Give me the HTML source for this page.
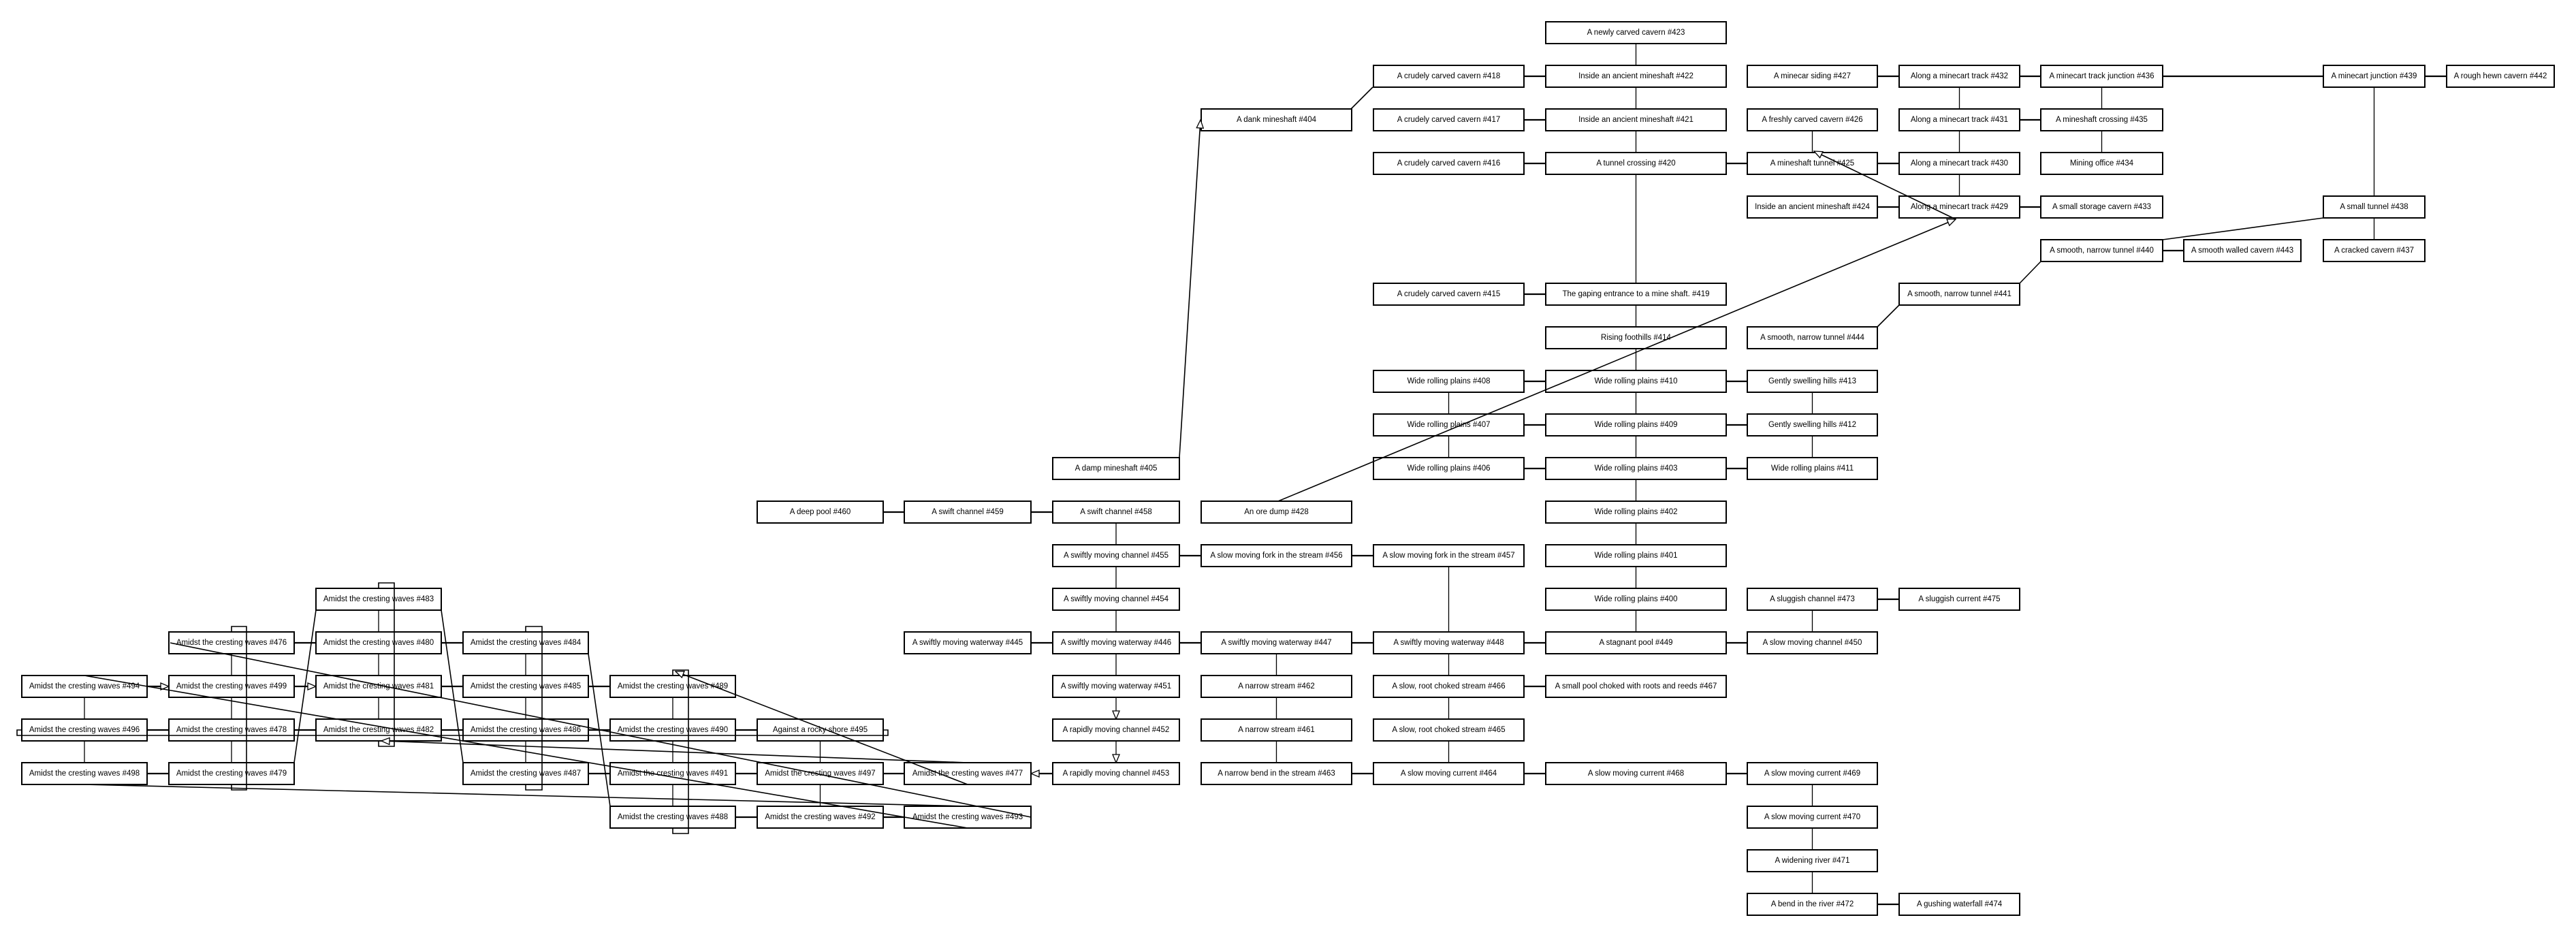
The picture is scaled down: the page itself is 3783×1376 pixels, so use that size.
<!DOCTYPE html>
<html><head><meta charset="utf-8"><style>
html,body{margin:0;padding:0;background:#fff}
svg{display:block}
text{font-family:"Liberation Sans",sans-serif;font-size:11.5px;fill:#000;text-anchor:middle;dominant-baseline:central}
.b rect{fill:#fff;stroke:#000;stroke-width:2}
.h{stroke:#000;stroke-width:2.2;fill:none}
.v{stroke:#000;stroke-width:1.3;fill:none}
.d{stroke:#000;stroke-width:1.6;fill:none}
</style></head><body>
<svg width="3783" height="1376" viewBox="0 0 3783 1376" xmlns="http://www.w3.org/2000/svg">
<defs>
<marker id="a" viewBox="0 0 14 12" refX="13" refY="6" markerWidth="14" markerHeight="12" markerUnits="userSpaceOnUse" orient="auto">
<path d="M1,1 L13,6 L1,11 Z" fill="#fff" stroke="#000" stroke-width="1.3"/>
</marker>
</defs>

<!-- horizontal edges -->
<g class="h">
<path d="M2238 112H2270M2757 112H2789M2966 112H2997M3176 112H3412M3561 112H3593"/>
<path d="M2238 176H2270M2966 176H2997"/>
<path d="M2238 240H2270M2535 240H2566M2757 240H2789"/>
<path d="M2757 304H2789M2966 304H2997"/>
<path d="M3176 368H3207"/>
<path d="M2238 432H2270"/>
<path d="M2238 560H2270M2535 560H2566M2238 624H2270M2535 624H2566M2238 688H2270M2535 688H2566"/>
<path d="M1297 752H1328M1514 752H1546"/>
<path d="M1732 816H1764M1985 816H2017"/>
<path d="M2757 880H2789"/>
<path d="M1514 944H1546M1732 944H1764M1985 944H2017M2238 944H2270M2535 944H2566M432 944H464M648 944H680"/>
<path d="M2238 1008H2270M648 1008H680M864 1008H896"/>
<path d="M216 1072H248M432 1072H464M648 1072H680M864 1072H896M1080 1072H1112"/>
<path d="M1985 1136H2017M2238 1136H2270M2535 1136H2566M216 1136H248M864 1136H896M1080 1136H1112M1297 1136H1328"/>
<path d="M1080 1200H1112M1297 1200H1328"/>
<path d="M2757 1328H2789"/>
</g>
<!-- vertical edges -->
<g class="v">
<path d="M2402.5 64V96M2402.5 128V160M2402.5 192V224M2402.5 256V416M2402.5 448V480M2402.5 512V544M2402.5 576V608M2402.5 640V672M2402.5 704V736M2402.5 768V800M2402.5 832V864M2402.5 896V928"/>
<path d="M2127.5 576V608M2127.5 640V672M2127.5 832V928M2127.5 960V992M2127.5 1024V1056M2127.5 1088V1120"/>
<path d="M2661.5 192V224M2661.5 576V608M2661.5 640V672M2661.5 896V928M2661.5 1152V1184M2661.5 1216V1248M2661.5 1280V1312"/>
<path d="M2877.5 128V160M2877.5 192V224M2877.5 256V288"/>
<path d="M3086.5 128V160M3086.5 192V224"/>
<path d="M3486.5 128V288M3486.5 320V352"/>
<path d="M1639 768V800M1639 832V864M1639 896V928M1639 960V992"/>
<path d="M1874.5 960V992M1874.5 1024V1056M1874.5 1088V1120"/>
<path d="M124 1024V1056M124 1088V1120"/>
<path d="M340 960V992M340 1024V1056M340 1088V1120"/>
<path d="M556 896V928M556 960V992M556 1024V1056"/>
<path d="M772 960V992M772 1024V1056M772 1088V1120"/>
<path d="M988 1024V1056M988 1088V1120M988 1152V1184"/>
<path d="M1204.5 1088V1120M1204.5 1152V1184"/>
</g>
<path class="v" d="M1639 1024V1056" marker-end="url(#a)"/>
<path class="v" d="M1639 1088V1120" marker-end="url(#a)"/>
<path class="h" d="M1546 1136H1514" marker-end="url(#a)"/>
<path class="h" d="M216 1008H248" marker-end="url(#a)"/>
<path class="h" d="M432 1008H464" marker-end="url(#a)"/>

<!-- nodes -->
<g class="b">
<g transform="translate(2270,32)"><rect width="265" height="32"/><text x="132.5" y="16">A newly carved cavern #423</text></g>

<g transform="translate(2017,96)"><rect width="221" height="32"/><text x="110.5" y="16">A crudely carved cavern #418</text></g>
<g transform="translate(2270,96)"><rect width="265" height="32"/><text x="132.5" y="16">Inside an ancient mineshaft #422</text></g>
<g transform="translate(2566,96)"><rect width="191" height="32"/><text x="95.5" y="16">A minecar siding #427</text></g>
<g transform="translate(2789,96)"><rect width="177" height="32"/><text x="88.5" y="16">Along a minecart track #432</text></g>
<g transform="translate(2997,96)"><rect width="179" height="32"/><text x="89.5" y="16">A minecart track junction #436</text></g>
<g transform="translate(3412,96)"><rect width="149" height="32"/><text x="74.5" y="16">A minecart junction #439</text></g>
<g transform="translate(3593,96)"><rect width="158" height="32"/><text x="79" y="16">A rough hewn cavern #442</text></g>

<g transform="translate(1764,160)"><rect width="221" height="32"/><text x="110.5" y="16">A dank mineshaft #404</text></g>
<g transform="translate(2017,160)"><rect width="221" height="32"/><text x="110.5" y="16">A crudely carved cavern #417</text></g>
<g transform="translate(2270,160)"><rect width="265" height="32"/><text x="132.5" y="16">Inside an ancient mineshaft #421</text></g>
<g transform="translate(2566,160)"><rect width="191" height="32"/><text x="95.5" y="16">A freshly carved cavern #426</text></g>
<g transform="translate(2789,160)"><rect width="177" height="32"/><text x="88.5" y="16">Along a minecart track #431</text></g>
<g transform="translate(2997,160)"><rect width="179" height="32"/><text x="89.5" y="16">A mineshaft crossing #435</text></g>

<g transform="translate(2017,224)"><rect width="221" height="32"/><text x="110.5" y="16">A crudely carved cavern #416</text></g>
<g transform="translate(2270,224)"><rect width="265" height="32"/><text x="132.5" y="16">A tunnel crossing #420</text></g>
<g transform="translate(2566,224)"><rect width="191" height="32"/><text x="95.5" y="16">A mineshaft tunnel #425</text></g>
<g transform="translate(2789,224)"><rect width="177" height="32"/><text x="88.5" y="16">Along a minecart track #430</text></g>
<g transform="translate(2997,224)"><rect width="179" height="32"/><text x="89.5" y="16">Mining office #434</text></g>

<g transform="translate(2566,288)"><rect width="191" height="32"/><text x="95.5" y="16">Inside an ancient mineshaft #424</text></g>
<g transform="translate(2789,288)"><rect width="177" height="32"/><text x="88.5" y="16">Along a minecart track #429</text></g>
<g transform="translate(2997,288)"><rect width="179" height="32"/><text x="89.5" y="16">A small storage cavern #433</text></g>
<g transform="translate(3412,288)"><rect width="149" height="32"/><text x="74.5" y="16">A small tunnel #438</text></g>

<g transform="translate(2997,352)"><rect width="179" height="32"/><text x="89.5" y="16">A smooth, narrow tunnel #440</text></g>
<g transform="translate(3207,352)"><rect width="172" height="32"/><text x="86" y="16">A smooth walled cavern #443</text></g>
<g transform="translate(3412,352)"><rect width="149" height="32"/><text x="74.5" y="16">A cracked cavern #437</text></g>

<g transform="translate(2017,416)"><rect width="221" height="32"/><text x="110.5" y="16">A crudely carved cavern #415</text></g>
<g transform="translate(2270,416)"><rect width="265" height="32"/><text x="132.5" y="16">The gaping entrance to a mine shaft. #419</text></g>
<g transform="translate(2789,416)"><rect width="177" height="32"/><text x="88.5" y="16">A smooth, narrow tunnel #441</text></g>

<g transform="translate(2270,480)"><rect width="265" height="32"/><text x="132.5" y="16">Rising foothills #414</text></g>
<g transform="translate(2566,480)"><rect width="191" height="32"/><text x="95.5" y="16">A smooth, narrow tunnel #444</text></g>

<g transform="translate(2017,544)"><rect width="221" height="32"/><text x="110.5" y="16">Wide rolling plains #408</text></g>
<g transform="translate(2270,544)"><rect width="265" height="32"/><text x="132.5" y="16">Wide rolling plains #410</text></g>
<g transform="translate(2566,544)"><rect width="191" height="32"/><text x="95.5" y="16">Gently swelling hills #413</text></g>

<g transform="translate(2017,608)"><rect width="221" height="32"/><text x="110.5" y="16">Wide rolling plains #407</text></g>
<g transform="translate(2270,608)"><rect width="265" height="32"/><text x="132.5" y="16">Wide rolling plains #409</text></g>
<g transform="translate(2566,608)"><rect width="191" height="32"/><text x="95.5" y="16">Gently swelling hills #412</text></g>

<g transform="translate(1546,672)"><rect width="186" height="32"/><text x="93" y="16">A damp mineshaft #405</text></g>
<g transform="translate(2017,672)"><rect width="221" height="32"/><text x="110.5" y="16">Wide rolling plains #406</text></g>
<g transform="translate(2270,672)"><rect width="265" height="32"/><text x="132.5" y="16">Wide rolling plains #403</text></g>
<g transform="translate(2566,672)"><rect width="191" height="32"/><text x="95.5" y="16">Wide rolling plains #411</text></g>

<g transform="translate(1112,736)"><rect width="185" height="32"/><text x="92.5" y="16">A deep pool #460</text></g>
<g transform="translate(1328,736)"><rect width="186" height="32"/><text x="93" y="16">A swift channel #459</text></g>
<g transform="translate(1546,736)"><rect width="186" height="32"/><text x="93" y="16">A swift channel #458</text></g>
<g transform="translate(1764,736)"><rect width="221" height="32"/><text x="110.5" y="16">An ore dump #428</text></g>
<g transform="translate(2270,736)"><rect width="265" height="32"/><text x="132.5" y="16">Wide rolling plains #402</text></g>

<g transform="translate(1546,800)"><rect width="186" height="32"/><text x="93" y="16">A swiftly moving channel #455</text></g>
<g transform="translate(1764,800)"><rect width="221" height="32"/><text x="110.5" y="16">A slow moving fork in the stream #456</text></g>
<g transform="translate(2017,800)"><rect width="221" height="32"/><text x="110.5" y="16">A slow moving fork in the stream #457</text></g>
<g transform="translate(2270,800)"><rect width="265" height="32"/><text x="132.5" y="16">Wide rolling plains #401</text></g>

<g transform="translate(1546,864)"><rect width="186" height="32"/><text x="93" y="16">A swiftly moving channel #454</text></g>
<g transform="translate(2270,864)"><rect width="265" height="32"/><text x="132.5" y="16">Wide rolling plains #400</text></g>
<g transform="translate(2566,864)"><rect width="191" height="32"/><text x="95.5" y="16">A sluggish channel #473</text></g>
<g transform="translate(2789,864)"><rect width="177" height="32"/><text x="88.5" y="16">A sluggish current #475</text></g>

<g transform="translate(1328,928)"><rect width="186" height="32"/><text x="93" y="16">A swiftly moving waterway #445</text></g>
<g transform="translate(1546,928)"><rect width="186" height="32"/><text x="93" y="16">A swiftly moving waterway #446</text></g>
<g transform="translate(1764,928)"><rect width="221" height="32"/><text x="110.5" y="16">A swiftly moving waterway #447</text></g>
<g transform="translate(2017,928)"><rect width="221" height="32"/><text x="110.5" y="16">A swiftly moving waterway #448</text></g>
<g transform="translate(2270,928)"><rect width="265" height="32"/><text x="132.5" y="16">A stagnant pool #449</text></g>
<g transform="translate(2566,928)"><rect width="191" height="32"/><text x="95.5" y="16">A slow moving channel #450</text></g>

<g transform="translate(1546,992)"><rect width="186" height="32"/><text x="93" y="16">A swiftly moving waterway #451</text></g>
<g transform="translate(1764,992)"><rect width="221" height="32"/><text x="110.5" y="16">A narrow stream #462</text></g>
<g transform="translate(2017,992)"><rect width="221" height="32"/><text x="110.5" y="16">A slow, root choked stream #466</text></g>
<g transform="translate(2270,992)"><rect width="265" height="32"/><text x="132.5" y="16">A small pool choked with roots and reeds #467</text></g>

<g transform="translate(1546,1056)"><rect width="186" height="32"/><text x="93" y="16">A rapidly moving channel #452</text></g>
<g transform="translate(1764,1056)"><rect width="221" height="32"/><text x="110.5" y="16">A narrow stream #461</text></g>
<g transform="translate(2017,1056)"><rect width="221" height="32"/><text x="110.5" y="16">A slow, root choked stream #465</text></g>

<g transform="translate(1546,1120)"><rect width="186" height="32"/><text x="93" y="16">A rapidly moving channel #453</text></g>
<g transform="translate(1764,1120)"><rect width="221" height="32"/><text x="110.5" y="16">A narrow bend in the stream #463</text></g>
<g transform="translate(2017,1120)"><rect width="221" height="32"/><text x="110.5" y="16">A slow moving current #464</text></g>
<g transform="translate(2270,1120)"><rect width="265" height="32"/><text x="132.5" y="16">A slow moving current #468</text></g>
<g transform="translate(2566,1120)"><rect width="191" height="32"/><text x="95.5" y="16">A slow moving current #469</text></g>

<g transform="translate(2566,1184)"><rect width="191" height="32"/><text x="95.5" y="16">A slow moving current #470</text></g>
<g transform="translate(2566,1248)"><rect width="191" height="32"/><text x="95.5" y="16">A widening river #471</text></g>
<g transform="translate(2566,1312)"><rect width="191" height="32"/><text x="95.5" y="16">A bend in the river #472</text></g>
<g transform="translate(2789,1312)"><rect width="177" height="32"/><text x="88.5" y="16">A gushing waterfall #474</text></g>

<!-- left cluster -->
<g transform="translate(464,864)"><rect width="184" height="32"/><text x="92" y="16">Amidst the cresting waves #483</text></g>
<g transform="translate(248,928)"><rect width="184" height="32"/><text x="92" y="16">Amidst the cresting waves #476</text></g>
<g transform="translate(464,928)"><rect width="184" height="32"/><text x="92" y="16">Amidst the cresting waves #480</text></g>
<g transform="translate(680,928)"><rect width="184" height="32"/><text x="92" y="16">Amidst the cresting waves #484</text></g>
<g transform="translate(32,992)"><rect width="184" height="32"/><text x="92" y="16">Amidst the cresting waves #494</text></g>
<g transform="translate(248,992)"><rect width="184" height="32"/><text x="92" y="16">Amidst the cresting waves #499</text></g>
<g transform="translate(464,992)"><rect width="184" height="32"/><text x="92" y="16">Amidst the cresting waves #481</text></g>
<g transform="translate(680,992)"><rect width="184" height="32"/><text x="92" y="16">Amidst the cresting waves #485</text></g>
<g transform="translate(896,992)"><rect width="184" height="32"/><text x="92" y="16">Amidst the cresting waves #489</text></g>
<g transform="translate(32,1056)"><rect width="184" height="32"/><text x="92" y="16">Amidst the cresting waves #496</text></g>
<g transform="translate(248,1056)"><rect width="184" height="32"/><text x="92" y="16">Amidst the cresting waves #478</text></g>
<g transform="translate(464,1056)"><rect width="184" height="32"/><text x="92" y="16">Amidst the cresting waves #482</text></g>
<g transform="translate(680,1056)"><rect width="184" height="32"/><text x="92" y="16">Amidst the cresting waves #486</text></g>
<g transform="translate(896,1056)"><rect width="184" height="32"/><text x="92" y="16">Amidst the cresting waves #490</text></g>
<g transform="translate(1112,1056)"><rect width="185" height="32"/><text x="92.5" y="16">Against a rocky shore #495</text></g>
<g transform="translate(32,1120)"><rect width="184" height="32"/><text x="92" y="16">Amidst the cresting waves #498</text></g>
<g transform="translate(248,1120)"><rect width="184" height="32"/><text x="92" y="16">Amidst the cresting waves #479</text></g>
<g transform="translate(680,1120)"><rect width="184" height="32"/><text x="92" y="16">Amidst the cresting waves #487</text></g>
<g transform="translate(896,1120)"><rect width="184" height="32"/><text x="92" y="16">Amidst the cresting waves #491</text></g>
<g transform="translate(1112,1120)"><rect width="185" height="32"/><text x="92.5" y="16">Amidst the cresting waves #497</text></g>
<g transform="translate(1328,1120)"><rect width="186" height="32"/><text x="93" y="16">Amidst the cresting waves #477</text></g>
<g transform="translate(896,1184)"><rect width="184" height="32"/><text x="92" y="16">Amidst the cresting waves #488</text></g>
<g transform="translate(1112,1184)"><rect width="185" height="32"/><text x="92.5" y="16">Amidst the cresting waves #492</text></g>
<g transform="translate(1328,1184)"><rect width="186" height="32"/><text x="93" y="16">Amidst the cresting waves #493</text></g>
</g>

<!-- diagonals & loops drawn over -->
<g class="d">
<path d="M1984 160L2016 128"/>
<path d="M1732 672L1763 176" marker-end="url(#a)"/>
<path d="M1877 736L2872 322" marker-end="url(#a)"/>
<path d="M2872 322L2664 222" marker-end="url(#a)"/>
<path d="M2757 480L2789 448"/>
<path d="M2966 416L2997 384"/>
<path d="M3176 352L3412 320"/>
<path d="M432 1120L464 896"/>
<path d="M648 896L680 1120"/>
<path d="M864 960L896 1184"/>
<path d="M250 944L1514 1200"/>
<path d="M124 992L1421 1216"/>
<path d="M124 1152L1421 1184"/>
<path d="M1421 1120L560 1088" marker-end="url(#a)"/>
<path d="M1421 1152L992 986" marker-end="url(#a)"/>
<path d="M340 928V920H362V1160H340V1152"/>
<path d="M556 864V856H579V1096H556V1088"/>
<path d="M772 928V920H796V1160H772V1152"/>
<path d="M988 992V984H1011V1224H988V1216"/>
<path d="M32 1072H25V1080H1304V1072H1297"/>
</g>
</svg>
</body></html>
